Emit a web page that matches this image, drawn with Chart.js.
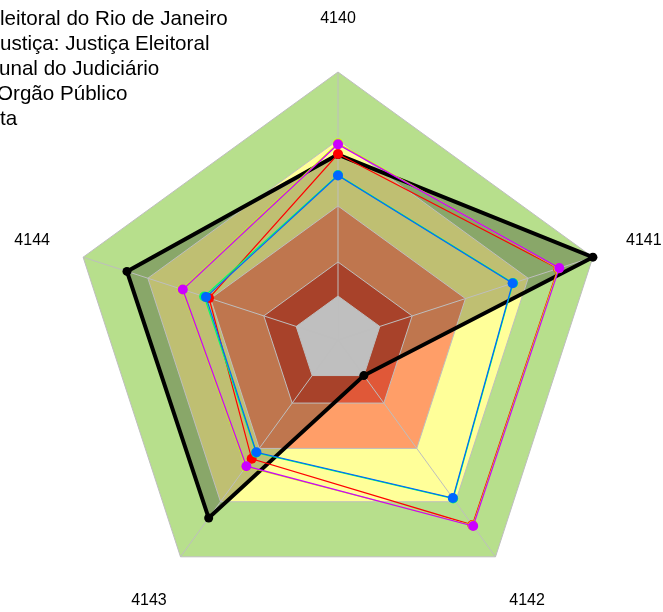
<!DOCTYPE html>
<html>
<head>
<style>
  body { margin: 0; background: #fff; }
  #wrap { position: relative; width: 663px; height: 612px; overflow: hidden; }
  #legend { position: absolute; left: 0; top: 0; font-family: "Liberation Sans", Arial, sans-serif; font-size: 20.6px; color: #000; }
  #legend div { position: absolute; white-space: nowrap; line-height: 20px; }
</style>
</head>
<body>

<div id="wrap">
  <canvas id="myChart" width="663" height="612"></canvas>
  <div id="legend"></div>
</div>

<script src="https://cdn.jsdelivr.net/npm/chart.js"></script>

<script>
  // axes
  const labels = ['4140', '4141', '4142', '4143', '4144'];

  // background bands (outer edge of each band, scale 0-100)
  const bandLimits = [100, 74.6, 50, 29.1, 16.4];

  // series values
  const meta    = [69.2, 100, 16.4, 82.1, 82.8];
  const serieA  = [69.4, 86.3, 85.3, 54.8, 50.6];
  const serieB  = [73.4, 86.5, 85.6, 58.5, 61.1];
  const serieC  = [61.6, 68.7, 73.1, 52.0, 52.5];
  const serieD  = [61.4, 68.5, 72.9, 51.8, 51.8];
  const serieE  = [73.0, 86.8, 85.8, 58.2, 60.9];

  // legend text (visible part, the rest is cut off in the picture)
  const legendText = [
    'leitoral do Rio de Janeiro',
    'ustiça: Justiça Eleitoral',
    'unal do Judiciário',
    'Orgão Público',
    'ta'
  ];
</script>

<script>
  const bandColors = ['rgb(183,223,140)', 'rgb(255,255,153)', 'rgb(255,158,104)', 'rgb(224,88,56)', '#ffffff'];

  const datasets = [];

  bandLimits.forEach(function(v, i) {
    datasets.push({
      data: labels.map(function() { return v; }),
      fill: 'origin',
      backgroundColor: bandColors[i],
      borderWidth: 0,
      pointRadius: 0,
      order: 100 - i
    });
  });

  datasets.push({
    label: 'Meta',
    data: meta,
    fill: 'origin',
    backgroundColor: 'rgba(0,0,0,0.25)',
    borderColor: '#000',
    borderWidth: 4,
    pointRadius: 4.5,
    pointBackgroundColor: '#000',
    pointBorderWidth: 0,
    order: 20
  });

  const series = [
    [serieA, '#FF0000', 6],
    [serieB, '#CCFF00', 5],
    [serieC, '#00FF66', 4],
    [serieD, '#0066FF', 3],
    [serieE, '#CC00FF', 2]
  ];
  series.forEach(function(s) {
    datasets.push({
      data: s[0],
      fill: false,
      borderColor: s[1],
      borderWidth: 1.2,
      pointRadius: 5,
      pointBackgroundColor: s[1],
      pointBorderWidth: 0,
      order: s[2]
    });
  });

  const axisLabels = {
    id: 'axisLabels',
    afterDraw(chart) {
      const scale = chart.scales.r;
      const ctx = chart.ctx;
      ctx.save();
      ctx.font = '16px "Liberation Sans", Arial, sans-serif';
      ctx.fillStyle = '#000';
      ctx.textAlign = 'center';
      ctx.textBaseline = 'middle';
      labels.forEach(function(l, i) {
        const p = scale.getPointPosition(i, scale.drawingArea * 1.2);
        ctx.fillText(l, p.x, p.y);
      });
      ctx.restore();
    }
  };

  const config = {
    type: 'radar',
    data: { labels: labels, datasets: datasets },
    options: {
      responsive: false,
      animation: false,
      events: [],
      layout: { padding: { left: 70, right: 57, top: 72, bottom: 4 } },
      elements: { line: { tension: 0 } },
      plugins: {
        legend: { display: false },
        tooltip: { enabled: false },
        filler: { drawTime: 'beforeDraw' }
      },
      scales: {
        r: {
          min: 0,
          max: 100,
          afterBuildTicks: function(scale) {
            scale.ticks = [0].concat(bandLimits.slice().reverse()).map(function(v) { return { value: v }; });
          },
          ticks: { display: false },
          pointLabels: { display: false },
          grid: { color: '#BEBEBE', lineWidth: 1 },
          angleLines: { color: '#BEBEBE', lineWidth: 1 }
        }
      }
    },
    plugins: [axisLabels]
  };

  const myChart = new Chart(document.getElementById('myChart'), config);

  const legend = document.getElementById('legend');
  const offsets = [0, 0, -1, -3, 0];
  legendText.forEach(function(t, i) {
    const d = document.createElement('div');
    d.textContent = t;
    d.style.left = offsets[i] + 'px';
    d.style.top = (8 + i * 25) + 'px';
    legend.appendChild(d);
  });
</script>

</body>
</html>
